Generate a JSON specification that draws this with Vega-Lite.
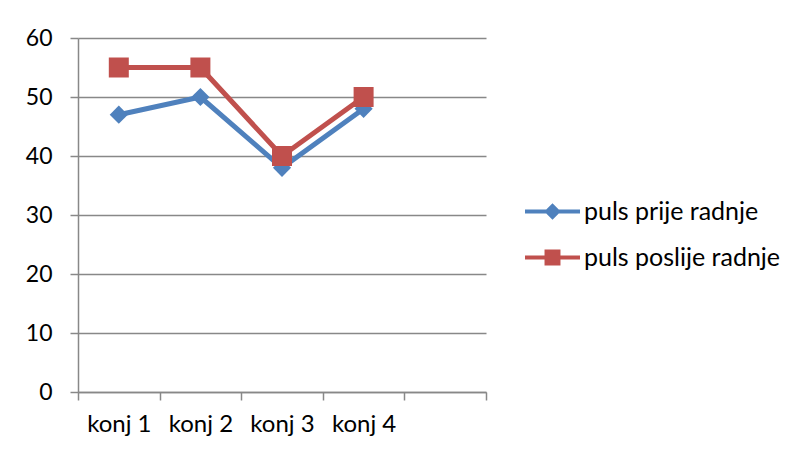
{
  "$schema": "https://vega.github.io/schema/vega-lite/v6.json",
  "autosize": "none",
  "width": 408,
  "height": 354,
  "padding": {"left": 78, "top": 38, "right": 308, "bottom": 62},
  "background": "white",
  "config": {
    "view": {"stroke": null},
    "font": "Lato"
  },
  "data": {
    "values": [
      {"konj": "konj 1", "serija": "puls prije radnje", "puls": 47},
      {"konj": "konj 2", "serija": "puls prije radnje", "puls": 50},
      {"konj": "konj 3", "serija": "puls prije radnje", "puls": 38},
      {"konj": "konj 4", "serija": "puls prije radnje", "puls": 48},
      {"konj": "konj 1", "serija": "puls poslije radnje", "puls": 55},
      {"konj": "konj 2", "serija": "puls poslije radnje", "puls": 55},
      {"konj": "konj 3", "serija": "puls poslije radnje", "puls": 40},
      {"konj": "konj 4", "serija": "puls poslije radnje", "puls": 50}
    ]
  },
  "encoding": {
    "x": {
      "field": "konj", "type": "nominal",
      "scale": {"domain": ["konj 1", "konj 2", "konj 3", "konj 4", "_"], "paddingInner": 0, "paddingOuter": 0},
      "axis": {"title": null, "labelAngle": 0, "tickBand": "extent", "tickSize": 8, "labelPadding": 12, "grid": false,
        "labelFont": "Lato", "labelFontSize": 24, "labelColor": "#000000",
        "domainColor": "#888888", "tickColor": "#888888", "domainWidth": 1.5, "tickWidth": 1.5,
        "labelExpr": "datum.value === '_' ? '' : datum.value"}
    },
    "y": {
      "field": "puls", "type": "quantitative",
      "scale": {"domain": [0, 60], "nice": false},
      "axis": {"title": null, "values": [0, 10, 20, 30, 40, 50, 60], "tickSize": 8, "labelPadding": 18, "grid": true,
        "labelFont": "Lato", "labelFontSize": 23, "labelColor": "#000000",
        "domainColor": "#888888", "tickColor": "#888888", "gridColor": "#888888", "domainWidth": 1.5, "tickWidth": 1.5, "gridWidth": 1.5}
    },
    "color": {
      "field": "serija", "type": "nominal",
      "scale": {"domain": ["puls prije radnje", "puls poslije radnje"], "range": ["#4F81BD", "#C0504D"]},
      "legend": {
        "title": null, "orient": "none", "legendX": 447, "legendY": 146,
        "labelFont": "Lato", "labelFontSize": 25, "labelColor": "#000000", "labelLimit": 400,
        "symbolSize": 3025, "labelOffset": 4, "rowPadding": 5,
        "symbolStrokeWidth": 0,
        "encode": {
          "symbols": {
            "update": {
              "shape": {"signal": "datum.value === 'puls prije radnje' ? 'M-1,-0.07H1V0.07H-1Z M0,-0.3L0.3,0L0,0.3L-0.3,0Z' : 'M-1,-0.07H1V0.07H-1Z M-0.29,-0.29H0.29V0.29H-0.29Z'"},
              "size": {"value": 3025},
              "strokeWidth": {"value": 0},
              "fillOpacity": {"value": 1}
            }
          }
        }
      }
    }
  },
  "layer": [
    {"mark": {"type": "line", "strokeWidth": 5}, "encoding": {}},
    {
      "transform": [{"filter": "datum.serija === 'puls prije radnje'"}],
      "mark": {"type": "point", "filled": true, "opacity": 1, "shape": "diamond", "size": 330},
      "encoding": {}
    },
    {
      "transform": [{"filter": "datum.serija === 'puls poslije radnje'"}],
      "mark": {"type": "point", "filled": true, "opacity": 1, "shape": "square", "size": 400},
      "encoding": {}
    }
  ]
}
